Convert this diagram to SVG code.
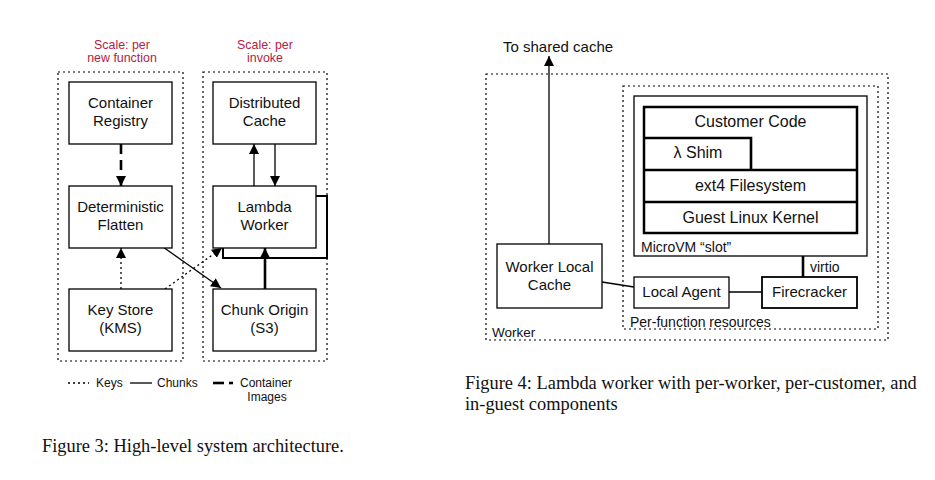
<svg xmlns="http://www.w3.org/2000/svg" width="935" height="480" viewBox="0 0 935 480">
<defs>
<style>
.box{fill:#fff;stroke:#000;stroke-width:1.3}
.thick{fill:#fff;stroke:#000;stroke-width:2.5}
.grp{fill:none;stroke:#000;stroke-width:1.2;stroke-dasharray:2 3}
.ln{fill:none;stroke:#000;stroke-width:1.3}
.dot{fill:none;stroke:#000;stroke-width:1.3;stroke-dasharray:2 3}
.tk{fill:none;stroke:#000;stroke-width:2.6}
.dsh{fill:none;stroke:#000;stroke-width:2.6;stroke-dasharray:9 6}
.t{font-family:"Liberation Sans",Arial,sans-serif;font-size:15px;fill:#111;text-anchor:middle}
.t16{font-family:"Liberation Sans",Arial,sans-serif;font-size:16px;fill:#111;text-anchor:middle}
.s{font-family:"Liberation Sans",Arial,sans-serif;font-size:14px;fill:#111}
.lg{font-family:"Liberation Sans",Arial,sans-serif;font-size:12px;fill:#111}
.red{font-family:"Liberation Sans",Arial,sans-serif;font-size:12.4px;fill:#b5213f;text-anchor:middle}
.cap{font-family:"Liberation Serif","Times New Roman",serif;font-size:18.4px;fill:#111}
</style>
<marker id="ah" viewBox="0 0 10 10" refX="10" refY="5" markerWidth="10" markerHeight="10" markerUnits="userSpaceOnUse" orient="auto">
<path d="M0,0 L10,5 L0,10 z" fill="#000"/>
</marker>
</defs>

<!-- Figure 3 -->
<g id="fig3">
<text class="red" x="122" y="49">Scale: per</text>
<text class="red" x="122" y="62">new function</text>
<text class="red" x="265" y="49">Scale: per</text>
<text class="red" x="265" y="62">invoke</text>
<rect id="grp-function" class="grp" x="58" y="72" width="125" height="289"/>
<rect id="grp-invoke" class="grp" x="203" y="72" width="124" height="289"/>

<g id="lambda-worker-back"><rect class="box" x="223" y="196" width="104" height="62" style="stroke-width:2"/></g>

<g id="connectors3">
<line class="dsh" x1="121" y1="144" x2="121" y2="186" marker-end="url(#ah)" style="stroke-dasharray:10 6"/>
<line class="dot" x1="121" y1="289" x2="121" y2="248" marker-end="url(#ah)"/>
<line class="ln" x1="163" y1="247" x2="221" y2="288" marker-end="url(#ah)"/>
<line class="dot" x1="165" y1="289" x2="222" y2="248" marker-end="url(#ah)"/>
<line class="ln" x1="254" y1="186" x2="254" y2="144" marker-end="url(#ah)"/>
<line class="ln" x1="275" y1="144" x2="275" y2="186" marker-end="url(#ah)"/>
<line class="tk" x1="265" y1="289" x2="265" y2="248" marker-end="url(#ah)"/>
</g>

<g id="container-registry"><rect class="box" x="69" y="82" width="103" height="62"/><text class="t" x="120.5" y="108">Container</text><text class="t" x="120.5" y="126">Registry</text></g>
<g id="deterministic-flatten"><rect class="box" x="69" y="186" width="103" height="62"/><text class="t" x="120.5" y="212">Deterministic</text><text class="t" x="120.5" y="230">Flatten</text></g>
<g id="key-store"><rect class="box" x="69" y="289" width="103" height="62"/><text class="t" x="120.5" y="315">Key Store</text><text class="t" x="120.5" y="333">(KMS)</text></g>
<g id="distributed-cache"><rect class="box" x="213" y="82" width="103" height="62"/><text class="t" x="264.5" y="108">Distributed</text><text class="t" x="264.5" y="126">Cache</text></g>
<g id="lambda-worker"><rect class="box" x="213" y="186" width="103" height="62"/><text class="t" x="264.5" y="212">Lambda</text><text class="t" x="264.5" y="230">Worker</text></g>
<g id="chunk-origin"><rect class="box" x="213" y="289" width="103" height="62"/><text class="t" x="264.5" y="315">Chunk Origin</text><text class="t" x="264.5" y="333">(S3)</text></g>

<g id="legend">
<line class="dot" x1="68" y1="383" x2="89" y2="383"/>
<text class="lg" x="96" y="387">Keys</text>
<line class="ln" x1="130" y1="383" x2="152" y2="383"/>
<text class="lg" x="157" y="387">Chunks</text>
<line class="tk" x1="213" y1="383" x2="224" y2="383"/>
<line class="tk" x1="229" y1="383" x2="233" y2="383"/>
<text class="lg" x="240" y="387">Container</text>
<text class="lg" x="267" y="401" text-anchor="middle">Images</text>
</g>
<text class="cap" x="42" y="452">Figure 3: High-level system architecture.</text>
</g>

<!-- Figure 4 -->
<g id="fig4">
<text class="s" x="503" y="52" style="font-size:15px">To shared cache</text>
<rect id="grp-worker" class="grp" x="486" y="74" width="402" height="266"/>
<rect id="grp-perfunction" class="grp" x="623" y="86" width="255" height="243"/>
<text class="s" x="492" y="337" style="font-size:13.5px">Worker</text>
<text class="s" x="630" y="327">Per-function resources</text>

<g id="microvm"><rect class="box" x="634" y="96" width="233" height="160"/><text class="s" x="641" y="252">MicroVM “slot”</text></g>
<g id="guest-stack">
<rect class="thick" x="644" y="107" width="213" height="126"/>
<text class="t16" x="750.5" y="127">Customer Code</text>
<g id="shim"><path class="tk" d="M644,138 H751 V170"/><text class="t16" x="698" y="158">λ Shim</text></g>
<g id="ext4"><line class="tk" x1="644" y1="170" x2="857" y2="170"/><text class="t16" x="750.5" y="191">ext4 Filesystem</text></g>
<g id="kernel"><line class="tk" x1="644" y1="202" x2="857" y2="202"/><text class="t16" x="750.5" y="223">Guest Linux Kernel</text></g>
</g>

<g id="connectors4">
<line class="ln" x1="549" y1="244" x2="549" y2="56" marker-end="url(#ah)"/>
<line class="ln" x1="602" y1="282" x2="634" y2="287"/>
<line class="ln" x1="729" y1="292" x2="762" y2="292"/>
<line class="tk" x1="803" y1="256" x2="803" y2="277"/>
<text class="s" x="810" y="272">virtio</text>
</g>

<g id="worker-local-cache"><rect class="box" x="497" y="244" width="105" height="64"/><text class="t" x="549.5" y="272">Worker Local</text><text class="t" x="549.5" y="290">Cache</text></g>
<g id="local-agent"><rect class="box" x="634" y="277" width="95" height="31"/><text class="t" x="681.5" y="297">Local Agent</text></g>
<g id="firecracker"><rect class="box" x="762" y="277" width="95" height="31" style="stroke-width:1.8"/><text class="t" x="809.5" y="297">Firecracker</text></g>

<text class="cap" x="465" y="389">Figure 4: Lambda worker with per-worker, per-customer, and</text>
<text class="cap" x="465" y="410">in-guest components</text>
</g>
</svg>
